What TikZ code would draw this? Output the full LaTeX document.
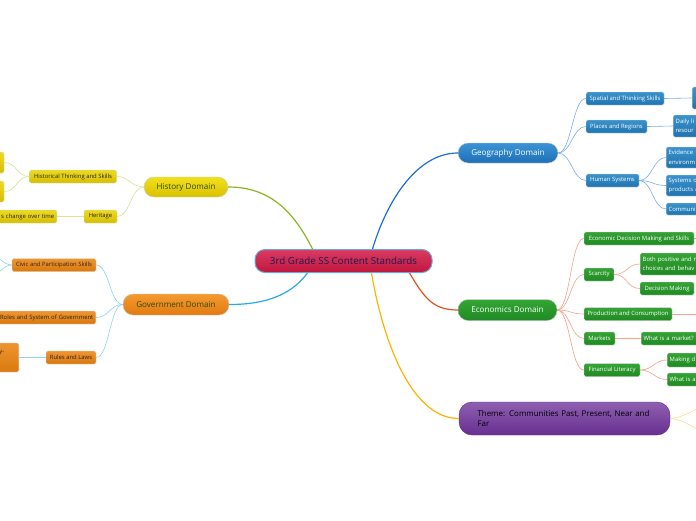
\documentclass[tikz,border=0pt]{standalone}
\usepackage{fontspec}
\setmainfont{Open Sans}
\usetikzlibrary{calc}
\usetikzlibrary{positioning}

\definecolor{rootink}{HTML}{1B1B55}
\definecolor{domink}{HTML}{2B4A12}
\definecolor{roottop}{HTML}{DA3A62}
\definecolor{rootbot}{HTML}{C0173D}
\definecolor{rootrim}{HTML}{6BA6DB}
\definecolor{histtop}{HTML}{F2DF1A}
\definecolor{histbot}{HTML}{D9C100}
\definecolor{govtop}{HTML}{F59A30}
\definecolor{govbot}{HTML}{E07A10}
\definecolor{geotop}{HTML}{3A94D6}
\definecolor{geobot}{HTML}{1F6FB5}
\definecolor{ecotop}{HTML}{35A535}
\definecolor{ecobot}{HTML}{1F8A24}
\definecolor{themetop}{HTML}{8D60B0}
\definecolor{themebot}{HTML}{682E90}
\definecolor{themerim}{HTML}{5B2A85}
\definecolor{ytop}{HTML}{EDDA20}
\definecolor{ybot}{HTML}{D6BE00}
\definecolor{otop}{HTML}{EF9530}
\definecolor{obot}{HTML}{D9790E}
\definecolor{btop}{HTML}{3A92CC}
\definecolor{bbot}{HTML}{1F74B0}
\definecolor{gtop}{HTML}{36A336}
\definecolor{gbot}{HTML}{1E8A22}
\definecolor{histline}{HTML}{8DB522}
\definecolor{histleafline}{HTML}{D4E59A}
\definecolor{govline}{HTML}{29A9E8}
\definecolor{govleafline}{HTML}{8CD3F5}
\definecolor{geoline}{HTML}{1C6FD6}
\definecolor{geoleafline}{HTML}{7FAEE8}
\definecolor{ecoline}{HTML}{E8501E}
\definecolor{ecoleafline}{HTML}{F7A08A}
\definecolor{themeline}{HTML}{FFB300}
\definecolor{themeleafline}{HTML}{FFDD88}

\tikzstyle{rootnode}=[rounded corners=10pt,top color=roottop,bottom color=rootbot,draw=rootrim,line width=1pt,text=rootink,font=\fontsize{9.8}{11}\selectfont,minimum width=177pt,minimum height=23pt,inner sep=0pt]
\tikzstyle{domainnode}=[rounded corners=10pt,minimum height=20pt,inner sep=0pt,font=\fontsize{8.1}{9}\selectfont,draw=white!80!black,line width=0.4pt]
\tikzstyle{leafbox}=[rounded corners=1.5pt,minimum height=13pt,inner xsep=2.5pt,inner ysep=0pt,font=\fontsize{5.9}{9.5}\selectfont,draw=black!15,line width=0.4pt]
\tikzstyle{yleaf}=[leafbox,top color=ytop,bottom color=ybot,text=black!85]
\tikzstyle{oleaf}=[leafbox,top color=otop,bottom color=obot,text=black!85]
\tikzstyle{bleaf}=[leafbox,top color=btop,bottom color=bbot,text=white]
\tikzstyle{gleaf}=[leafbox,top color=gtop,bottom color=gbot,text=white]

\begin{document}
\begin{tikzpicture}[x=1pt,y=-1pt]
\clip (0,0) rectangle (696,520);
\fill[white] (0,0) rectangle (696,520);

%Root and domains
\node[rootnode] (root) at (343.5,261) {3rd Grade SS Content Standards};
\node[domainnode,minimum width=84pt,top color=histtop,bottom color=histbot,text=domink] (hist) at (186,187) {History Domain};
\node[domainnode,minimum width=106pt,minimum height=21pt,top color=govtop,bottom color=govbot,text=domink] (gov) at (176,304.5) {Government Domain};
\node[domainnode,minimum width=100pt,top color=geotop,bottom color=geobot,text=white] (geo) at (508,153) {Geography Domain};
\node[domainnode,minimum width=99pt,minimum height=21pt,top color=ecotop,bottom color=ecobot,text=white] (eco) at (507.5,310) {Economics Domain};
\node[domainnode,rounded corners=13pt,minimum width=211pt,minimum height=33pt,top color=themetop,bottom color=themebot,draw=themerim,text=black,text width=174pt,align=left,font=\fontsize{7.95}{10.5}\selectfont] (theme) at (564.5,418.5) {Theme: Communities Past, Present, Near and\\Far};

%Root branches
\draw[histline,line width=1.2pt] ($(root.north)+(-31,0)$) .. controls +(-20,-40) and +(40,0) .. (hist.east);
\draw[govline,line width=1.2pt] ($(root.south)+(-36,0)$) .. controls +(-15,20) and +(40,0) .. (gov.east);
\draw[geoline,line width=1.2pt] ($(root.north)+(29,0)$) .. controls +(15,-50) and +(-40,0) .. (geo.west);
\draw[ecoline,line width=1.2pt] ($(root.south)+(66,0)$) .. controls +(15,25) and +(-25,0) .. (eco.west);
\draw[themeline,line width=1.2pt] ($(root.south)+(28,0)$) .. controls +(10,60) and +(-50,0) .. (theme.west);

%History
\foreach \pos/\name/\boxw/\label in {{(73,176.5)/hts/87/Historical Thinking and Skills}, {(100.5,216.5)/her/33/Heritage}}
    \node[yleaf,minimum width=\boxw pt] (\name) at \pos {\label};
\node[yleaf,minimum width=48pt,minimum height=21pt] (yl1) at (-20,162.5) {};
\node[yleaf,minimum width=48pt,minimum height=21pt] (yl2) at (-20,191.5) {};
\node[yleaf,anchor=east,text width=64pt,align=right] (chg) at (57,216.5) {s change over time};

%Government
\foreach \pos/\name/\boxw/\label in {{(54,265)/civ/84/Civic and Participation Skills}, {(71,357.5)/rul/50/Rules and Laws}}
    \node[oleaf,minimum width=\boxw pt] (\name) at \pos {\label};
\node[oleaf,anchor=east,text width=110pt,align=right] (rol) at (96,317.5) {Roles and System of Government};
\node[oleaf,anchor=east,minimum height=29pt,text width=60pt,align=right] (ol1) at (19,357.5) {\mbox{y-\kern12pt}\\ \phantom{y}};
\coordinate (civa) at (-12,252);
\coordinate (civb) at (-12,279);

%Geography
\foreach \pos/\name/\boxw/\label in {{(625,98.5)/spt/78/Spatial and Thinking Skills}, {(616.5,126.5)/plr/61/Places and Regions}, {(612.5,180.5)/hum/53/Human Systems}}
    \node[bleaf,minimum width=\boxw pt] (\name) at \pos {\label};
\node[bleaf,anchor=west,minimum width=40pt,minimum height=22pt] (bl1) at (692,98) {};
\foreach \pos/\name/\boxh/\label in {{(673,126)/dly/22/{Daily li\\resour}}, {(666,157.5)/evi/21/{Evidence\\environm}}, {(666,185.5)/sys/21/{Systems o\\products a}}, {(666,209)/com/12/{Communi}}}
    \node[bleaf,anchor=west,minimum height=\boxh pt,text width=50pt,align=left] (\name) at \pos {\label};

%Economics
\foreach \pos/\name/\boxw/\label in {{(639,238.5)/edm/110/Economic Decision Making and Skills}, {(599,274.5)/sca/30/Scarcity}, {(667,288.5)/dcm/54/Decision Making}, {(628,314)/pnc/88/Production and Consumption}, {(599.5,338.5)/mkt/31/Markets}, {(612,370)/fin/56/Financial Literacy}}
    \node[gleaf,minimum width=\boxw pt] (\name) at \pos {\label};
\foreach \pos/\name/\boxh/\label in {{(640,264)/bpn/22/{Both positive and n\\choices and behav}}, {(641,338.5)/wim/13/{What is a market?}}, {(667,360)/mkd/14/{Making d}}, {(667,379.5)/wia/13/{What is a}}}
    \node[gleaf,anchor=west,minimum height=\boxh pt,text width=60pt,align=left] (\name) at \pos {\label};
\coordinate (edmo) at (705,238.5);
\coordinate (pnco) at (705,314);

%Theme
\coordinate (tha) at (710,406);
\coordinate (thb) at (710,432);

%Leaf connectors, leftwards
\foreach \source/\dest/\col in {hist/hts/histleafline, hist/her/histleafline, hts/yl1/histleafline, hts/yl2/histleafline, her/chg/histleafline, gov/civ/govleafline, gov/rol/govleafline, gov/rul/govleafline, rul/ol1/govleafline}
    \draw[\col,line width=0.6pt] (\source.west) .. controls +(-13,0) and +(13,0) .. (\dest.east);
\foreach \dest in {civa,civb}
    \draw[govleafline,line width=0.6pt] (civ.west) .. controls +(-10,0) and +(8,0) .. (\dest);

%Leaf connectors, rightwards
\foreach \source/\dest/\col in {geo/spt/geoleafline, geo/plr/geoleafline, geo/hum/geoleafline, spt/bl1/geoleafline, plr/dly/geoleafline, hum/evi/geoleafline, hum/sys/geoleafline, hum/com/geoleafline, eco/edm/ecoleafline, eco/sca/ecoleafline, eco/pnc/ecoleafline, eco/mkt/ecoleafline, eco/fin/ecoleafline, sca/bpn/ecoleafline, sca/dcm/ecoleafline, mkt/wim/ecoleafline, fin/mkd/ecoleafline, fin/wia/ecoleafline}
    \draw[\col,line width=0.6pt] (\source.east) .. controls +(13,0) and +(-13,0) .. (\dest.west);
\foreach \source/\dest in {edm/edmo, pnc/pnco}
    \draw[ecoleafline,line width=0.6pt] (\source.east) -- (\dest);
\foreach \dest in {tha,thb}
    \draw[themeleafline,line width=0.6pt] (theme.east) .. controls +(14,0) and +(-14,0) .. (\dest);

\end{tikzpicture}
\end{document}
